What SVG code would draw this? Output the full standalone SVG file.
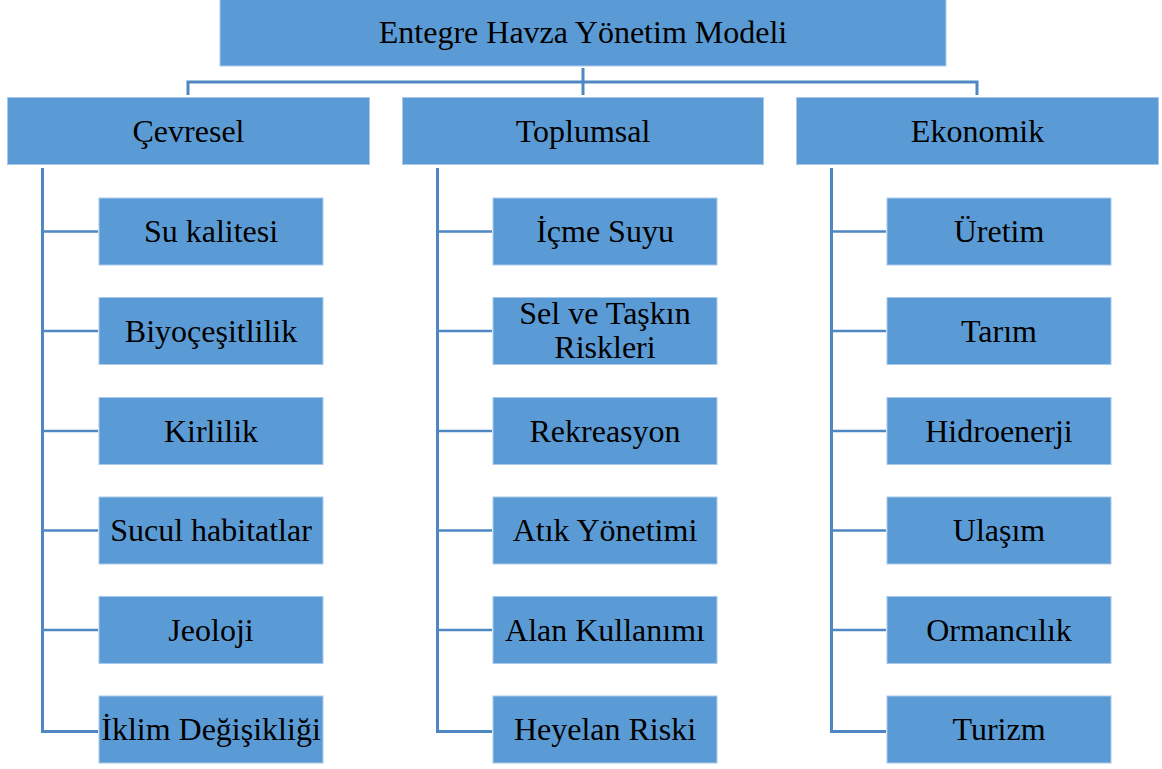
<svg xmlns="http://www.w3.org/2000/svg" width="1162" height="769" viewBox="0 0 1162 769">
  <style>
    .box { fill: #5B9BD5; stroke: #A9C9EA; stroke-width: 1; }
    .lbl { font-family: "Liberation Serif", "Times New Roman", serif; font-size: 32px; fill: #000; text-anchor: middle; }
    .trunk { stroke: #4F87C2; stroke-width: 3; fill: none; }
    .twig { stroke: #4F87C2; stroke-width: 2.5; fill: none; }
  </style>
  <rect width="1162" height="769" fill="#fff"/>

  <!-- connectors -->
  <g id="connectors">
    <path class="trunk" d="M583 68 V95 M188 95 V82 H977 V95"/>
    <!-- Cevresel branch -->
    <path class="trunk" d="M42.5 168 V731.5 H98"/>
    <path class="twig" d="M42.5 231.5 H98 M42.5 331 H98 M42.5 431 H98 M42.5 530.5 H98 M42.5 630 H98"/>
    <!-- Toplumsal branch -->
    <path class="trunk" d="M437.5 168 V731.5 H492"/>
    <path class="twig" d="M437.5 231.5 H492 M437.5 331 H492 M437.5 431 H492 M437.5 530.5 H492 M437.5 630 H492"/>
    <!-- Ekonomik branch -->
    <path class="trunk" d="M831.5 168 V731.5 H886"/>
    <path class="twig" d="M831.5 231.5 H886 M831.5 331 H886 M831.5 431 H886 M831.5 530.5 H886 M831.5 630 H886"/>
  </g>

  <g id="root">
    <rect class="box" x="220" y="-1" width="726" height="67"/>
    <text class="lbl" x="583" y="42.5">Entegre Havza Yönetim Modeli</text>
  </g>

  <g id="cevresel">
    <rect class="box" x="7.5" y="97.5" width="362" height="67"/>
    <text class="lbl" x="188.5" y="142">Çevresel</text>
  </g>
  <g id="toplumsal">
    <rect class="box" x="402.5" y="97.5" width="361" height="67"/>
    <text class="lbl" x="583" y="142">Toplumsal</text>
  </g>
  <g id="ekonomik">
    <rect class="box" x="796.5" y="97.5" width="362" height="67"/>
    <text class="lbl" x="977.5" y="142">Ekonomik</text>
  </g>

  <!-- Cevresel items -->
  <g id="su-kalitesi"><rect class="box" x="99" y="198" width="224" height="67"/><text class="lbl" x="211" y="242">Su kalitesi</text></g>
  <g id="biyocesitlilik"><rect class="box" x="99" y="297.5" width="224" height="67"/><text class="lbl" x="211" y="341.5">Biyoçeşitlilik</text></g>
  <g id="kirlilik"><rect class="box" x="99" y="397.5" width="224" height="67"/><text class="lbl" x="211" y="441.5">Kirlilik</text></g>
  <g id="sucul-habitatlar"><rect class="box" x="99" y="497" width="224" height="67"/><text class="lbl" x="211" y="541">Sucul habitatlar</text></g>
  <g id="jeoloji"><rect class="box" x="99" y="596.5" width="224" height="67"/><text class="lbl" x="211" y="640.5">Jeoloji</text></g>
  <g id="iklim-degisikligi"><rect class="box" x="99" y="696" width="224" height="67"/><text class="lbl" x="211" y="740">İklim Değişikliği</text></g>

  <!-- Toplumsal items -->
  <g id="icme-suyu"><rect class="box" x="493" y="198" width="224" height="67"/><text class="lbl" x="605" y="242">İçme Suyu</text></g>
  <g id="sel-taskin"><rect class="box" x="493" y="297.5" width="224" height="67"/><text class="lbl" x="605" y="324">Sel ve Taşkın</text><text class="lbl" x="605" y="357.5">Riskleri</text></g>
  <g id="rekreasyon"><rect class="box" x="493" y="397.5" width="224" height="67"/><text class="lbl" x="605" y="441.5">Rekreasyon</text></g>
  <g id="atik-yonetimi"><rect class="box" x="493" y="497" width="224" height="67"/><text class="lbl" x="605" y="541">Atık Yönetimi</text></g>
  <g id="alan-kullanimi"><rect class="box" x="493" y="596.5" width="224" height="67"/><text class="lbl" x="605" y="640.5">Alan Kullanımı</text></g>
  <g id="heyelan-riski"><rect class="box" x="493" y="696" width="224" height="67"/><text class="lbl" x="605" y="740">Heyelan Riski</text></g>

  <!-- Ekonomik items -->
  <g id="uretim"><rect class="box" x="887" y="198" width="224" height="67"/><text class="lbl" x="999" y="242">Üretim</text></g>
  <g id="tarim"><rect class="box" x="887" y="297.5" width="224" height="67"/><text class="lbl" x="999" y="341.5">Tarım</text></g>
  <g id="hidroenerji"><rect class="box" x="887" y="397.5" width="224" height="67"/><text class="lbl" x="999" y="441.5">Hidroenerji</text></g>
  <g id="ulasim"><rect class="box" x="887" y="497" width="224" height="67"/><text class="lbl" x="999" y="541">Ulaşım</text></g>
  <g id="ormancilik"><rect class="box" x="887" y="596.5" width="224" height="67"/><text class="lbl" x="999" y="640.5">Ormancılık</text></g>
  <g id="turizm"><rect class="box" x="887" y="696" width="224" height="67"/><text class="lbl" x="999" y="740">Turizm</text></g>
</svg>
